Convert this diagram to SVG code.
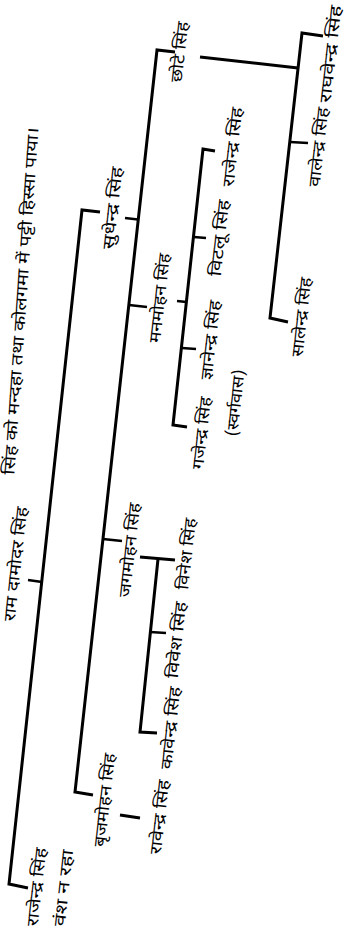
<svg xmlns="http://www.w3.org/2000/svg" width="347" height="932" viewBox="0 0 347 932">
<style>
.ln{stroke:#000;stroke-width:3;fill:none;stroke-linecap:butt;stroke-linejoin:miter}
.tk{stroke:#000;stroke-width:2.5;fill:none}
.t{font-family:'Noto Sans Devanagari','Noto Sans','Lohit Devanagari',sans-serif;font-size:16px;fill:#000}
</style>
<rect width="347" height="932" fill="#fff"/>
<g id="connectors">
<polyline class="ln" points="100,212 82,210 9,884 28,888"/>
<line class="tk" x1="28" y1="580" x2="42" y2="582"/>
<polyline class="ln" points="175,52 157,50 75,792 93,795"/>
<line class="tk" x1="125" y1="218" x2="138" y2="219.5"/>
<line class="tk" x1="129" y1="305" x2="147" y2="307"/>
<line class="tk" x1="103" y1="539" x2="122" y2="541"/>
<polyline class="ln" points="215,151 203,149 173,425 187,427"/>
<line class="tk" x1="177" y1="301" x2="186.5" y2="302"/>
<line class="tk" x1="194" y1="237" x2="206" y2="238"/>
<line class="tk" x1="182" y1="348" x2="196" y2="349"/>
<polyline class="ln" points="323,36 302,33 270,318 288,322"/>
<line class="tk" x1="290" y1="142" x2="308" y2="143"/>
<line class="ln" x1="200" y1="57" x2="298" y2="68"/>
<line class="ln" x1="140" y1="557" x2="175" y2="560"/>
<polyline class="ln" points="158,559 140,732 157,733"/>
<line class="tk" x1="150" y1="632" x2="166" y2="633"/>
<line class="ln" x1="120" y1="815" x2="140" y2="818"/>
</g>
<g id="caption"><text class="t" transform="translate(21.5,301) rotate(-86)" y="5" text-anchor="middle" textLength="348" lengthAdjust="spacingAndGlyphs">सिंह को मन्दहा तथा कोलगमा में पट्टी हिस्सा पाया।</text></g>
<g id="n-ramdamodar"><text class="t" transform="translate(16,564) rotate(-83.7)" y="5" text-anchor="middle" textLength="115" lengthAdjust="spacingAndGlyphs">राम दामोदर सिंह</text></g>
<g id="n-rajendra1"><text class="t" transform="translate(37,887) rotate(-83.7)" y="5" text-anchor="middle" textLength="79" lengthAdjust="spacingAndGlyphs">राजेन्द्र सिंह</text><text class="t" transform="translate(64,888) rotate(-83.7)" y="5" text-anchor="middle" textLength="77" lengthAdjust="spacingAndGlyphs">वंश न रहा</text></g>
<g id="n-sudhendra"><text class="t" transform="translate(113,208) rotate(-83.7)" y="5" text-anchor="middle" textLength="83" lengthAdjust="spacingAndGlyphs">सुधेन्द्र सिंह</text></g>
<g id="n-brijmohan"><text class="t" transform="translate(105,800) rotate(-83.7)" y="5" text-anchor="middle" textLength="94" lengthAdjust="spacingAndGlyphs">बृजमोहन सिंह</text></g>
<g id="n-jagmohan"><text class="t" transform="translate(130,550) rotate(-83.7)" y="5" text-anchor="middle" textLength="95" lengthAdjust="spacingAndGlyphs">जगमोहन सिंह</text></g>
<g id="n-manmohan"><text class="t" transform="translate(160,298) rotate(-83.7)" y="5" text-anchor="middle" textLength="90" lengthAdjust="spacingAndGlyphs">मनमोहन सिंह</text></g>
<g id="n-chhote"><text class="t" transform="translate(180,52) rotate(-83.7)" y="5" text-anchor="middle" textLength="61" lengthAdjust="spacingAndGlyphs">छोटे सिंह</text></g>
<g id="n-ravendra"><text class="t" transform="translate(160,817) rotate(-83.7)" y="5" text-anchor="middle" textLength="75" lengthAdjust="spacingAndGlyphs">रावेन्द्र सिंह</text></g>
<g id="n-kavendra"><text class="t" transform="translate(171,728) rotate(-83.7)" y="5" text-anchor="middle" textLength="83" lengthAdjust="spacingAndGlyphs">कावेन्द्र सिंह</text></g>
<g id="n-vivesh"><text class="t" transform="translate(177,640) rotate(-83.7)" y="5" text-anchor="middle" textLength="77" lengthAdjust="spacingAndGlyphs">विवेश सिंह</text></g>
<g id="n-vinesh"><text class="t" transform="translate(187,554) rotate(-83.7)" y="5" text-anchor="middle" textLength="72" lengthAdjust="spacingAndGlyphs">विनेश सिंह</text></g>
<g id="n-rajendra2"><text class="t" transform="translate(233,147) rotate(-83.7)" y="5" text-anchor="middle" textLength="80" lengthAdjust="spacingAndGlyphs">राजेन्द्र सिंह</text></g>
<g id="n-vitalu"><text class="t" transform="translate(220,238) rotate(-83.7)" y="5" text-anchor="middle" textLength="77" lengthAdjust="spacingAndGlyphs">विटलू सिंह</text></g>
<g id="n-gyanendra"><text class="t" transform="translate(211,340) rotate(-83.7)" y="5" text-anchor="middle" textLength="80" lengthAdjust="spacingAndGlyphs">ज्ञानेन्द्र सिंह</text></g>
<g id="n-gajendra"><text class="t" transform="translate(202,433) rotate(-83.7)" y="5" text-anchor="middle" textLength="73" lengthAdjust="spacingAndGlyphs">गजेन्द्र सिंह</text><text class="t" transform="translate(236,403) rotate(-83.7)" y="5" text-anchor="middle" textLength="67" lengthAdjust="spacingAndGlyphs">(स्वर्गवास)</text></g>
<g id="n-raghvendra"><text class="t" transform="translate(331,54) rotate(-83.7)" y="5" text-anchor="middle" textLength="98" lengthAdjust="spacingAndGlyphs">राघवेन्द्र सिंह</text></g>
<g id="n-valendra"><text class="t" transform="translate(319,147) rotate(-83.7)" y="5" text-anchor="middle" textLength="80" lengthAdjust="spacingAndGlyphs">वालेन्द्र सिंह</text></g>
<g id="n-salendra"><text class="t" transform="translate(302,317) rotate(-83.7)" y="5" text-anchor="middle" textLength="80" lengthAdjust="spacingAndGlyphs">सालेन्द्र सिंह</text></g>
</svg>
